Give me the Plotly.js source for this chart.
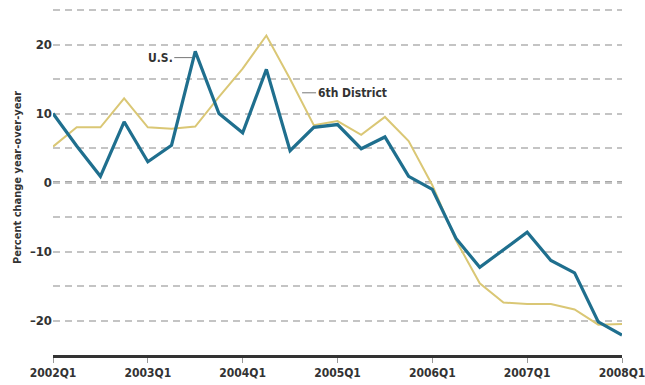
<!DOCTYPE html>
<html>
<head>
<meta charset="utf-8">
<script src="https://cdn.plot.ly/plotly-3.0.1.min.js"></script>
<style>
  html, body { margin: 0; padding: 0; background: #ffffff; }
  #chart { width: 645px; height: 385px; }
</style>
</head>
<body>
<div id="chart"></div>
<script>
// Quarterly periods, 2002Q1 through 2008Q1
const quarters = [
  "2002Q1","2002Q2","2002Q3","2002Q4",
  "2003Q1","2003Q2","2003Q3","2003Q4",
  "2004Q1","2004Q2","2004Q3","2004Q4",
  "2005Q1","2005Q2","2005Q3","2005Q4",
  "2006Q1","2006Q2","2006Q3","2006Q4",
  "2007Q1","2007Q2","2007Q3","2007Q4",
  "2008Q1"
];

// Percent change year-over-year, United States
const usValues = [
  10.0, 5.3, 0.9, 8.8,
  3.0, 5.4, 19.0, 10.0,
  7.2, 16.4, 4.6, 8.0,
  8.4, 4.9, 6.6, 0.9,
  -1.0, -8.1, -12.3, -9.7,
  -7.2, -11.3, -13.1, -20.2,
  -22.1
];

// Percent change year-over-year, Sixth District
const districtValues = [
  5.2, 8.0, 8.0, 12.2,
  8.0, 7.8, 8.1, 12.4,
  16.5, 21.3, 15.0, 8.3,
  8.9, 6.9, 9.5, 6.0,
  -0.4, -8.4, -14.6, -17.4,
  -17.6, -17.6, -18.4, -20.6,
  -20.5
];

// Axis labelling
const xTickVals = ["2002Q1","2003Q1","2004Q1","2005Q1","2006Q1","2007Q1","2008Q1"];
const yGridVals = [-20, -15, -10, -5, 0, 5, 10, 15, 20, 25];
const yTickText = ["\u201320", "", "\u201310", "", "0", "", "10", "", "20", ""];

const fontFamily = "DejaVu Sans Condensed, Liberation Sans Narrow, Arial Narrow, sans-serif";
const yTickFont = { family: fontFamily, size: 13, color: "#333333", weight: 700 };
const xTickFont = { family: fontFamily, size: 12, color: "#333333", weight: 700 };
const noteFont = { family: fontFamily, size: 12, color: "#333333", weight: 700 };

const traces = [
  {
    x: quarters, y: districtValues, type: "scatter", mode: "lines",
    name: "6th District",
    line: { color: "#dac775", width: 2 }
  },
  {
    x: quarters, y: usValues, type: "scatter", mode: "lines",
    name: "U.S.",
    line: { color: "#1f6f8e", width: 3.2 }
  }
];

const layout = {
  width: 645, height: 385,
  margin: { l: 53, r: 23, t: 0, b: 30 },
  paper_bgcolor: "#ffffff",
  plot_bgcolor: "#ffffff",
  showlegend: false,
  xaxis: {
    type: "category",
    range: [0, 24],
    tickvals: xTickVals,
    ticktext: xTickVals,
    showgrid: false,
    zeroline: false,
    showline: true,
    linecolor: "#333333",
    linewidth: 3,
    ticks: "outside",
    ticklen: 5,
    tickwidth: 1,
    tickcolor: "#999999",
    tickfont: xTickFont
  },
  yaxis: {
    range: [-25, 26.45],
    tickvals: yGridVals,
    ticktext: yTickText,
    showgrid: true,
    gridcolor: "#c4c4c4",
    gridwidth: 2,
    griddash: "7px,5px",
    zeroline: false,
    showline: false,
    ticks: "",
    tickfont: yTickFont,
    title: {
      text: "Percent change year-over-year",
      font: { family: fontFamily, size: 11, color: "#333333", weight: 700 },
      standoff: 6
    }
  },
  shapes: [
    {
      type: "line", xref: "paper", yref: "y",
      x0: 0, x1: 1, y0: 0, y1: 0,
      line: { color: "#8a8a8a", width: 2.5, dash: "7px,5px" },
      layer: "below"
    }
  ],
  annotations: [
    {
      x: "2003Q3", xshift: -3, y: 18.1,
      text: "U.S.", showarrow: true, arrowhead: 0, arrowwidth: 1,
      arrowcolor: "#777777", ax: -32, ay: 0, standoff: 0,
      font: noteFont
    },
    {
      x: "2004Q3", xshift: 12, y: 13.0,
      text: "6th District", showarrow: true, arrowhead: 0, arrowwidth: 1,
      arrowcolor: "#777777", ax: 50, ay: 0, standoff: 0,
      font: noteFont
    }
  ]
};

Plotly.newPlot("chart", traces, layout, { displayModeBar: false, staticPlot: true });
</script>
</body>
</html>
